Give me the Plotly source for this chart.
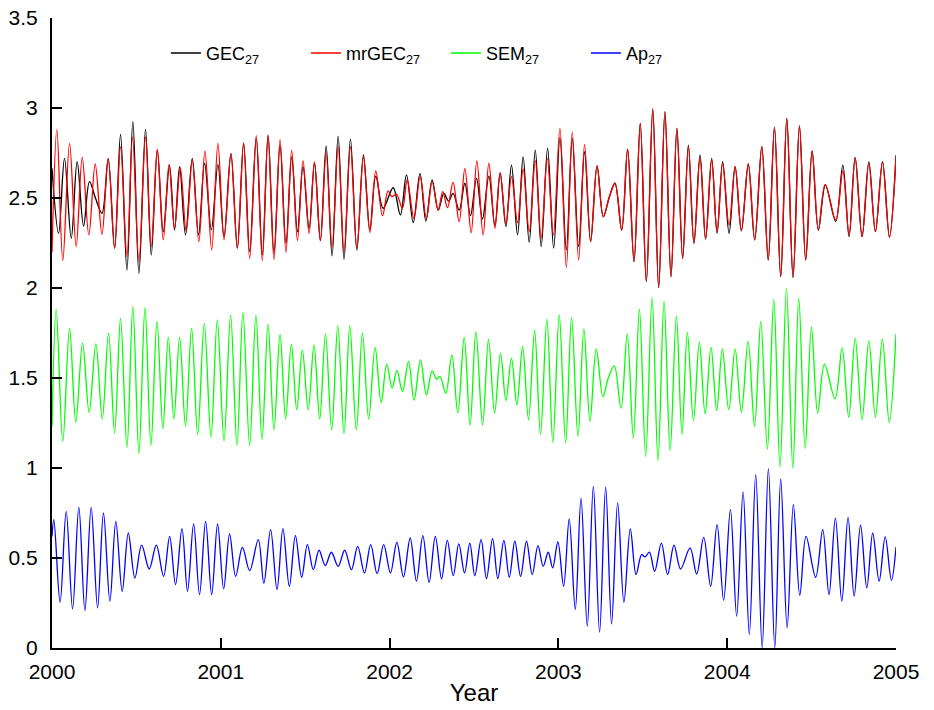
import plotly.graph_objects as go

# Extremum readings: (years after 2000-01-01, value)
GEC = [(0.000, 2.665), (0.039, 2.304), (0.074, 2.720), (0.114, 2.276), (0.149, 2.702), (0.187, 2.344),
       (0.222, 2.591), (0.258, 2.498), (0.296, 2.415), (0.333, 2.717), (0.371, 2.221), (0.406, 2.853),
       (0.444, 2.100), (0.479, 2.924), (0.515, 2.082), (0.554, 2.881), (0.588, 2.184), (0.624, 2.766),
       (0.659, 2.313), (0.696, 2.683), (0.726, 2.323), (0.756, 2.674), (0.791, 2.295), (0.831, 2.720),
       (0.868, 2.295), (0.904, 2.692), (0.944, 2.323), (0.983, 2.687), (1.019, 2.285), (1.060, 2.748),
       (1.098, 2.221), (1.135, 2.803), (1.171, 2.202), (1.210, 2.831), (1.246, 2.184),
       (1.280, 2.846), (1.315, 2.193), (1.351, 2.794), (1.386, 2.248), (1.420, 2.729), (1.454, 2.313),
       (1.487, 2.674), (1.523, 2.332), (1.555, 2.692), (1.590, 2.263), (1.624, 2.789), (1.659, 2.178),
       (1.695, 2.844), (1.730, 2.160), (1.768, 2.827), (1.806, 2.212), (1.845, 2.739), (1.883, 2.322),
       (1.918, 2.622), (1.962, 2.443), (2.021, 2.557), (2.064, 2.406), (2.100, 2.628), (2.140, 2.363),
       (2.180, 2.637), (2.215, 2.372), (2.252, 2.600), (2.288, 2.433), (2.321, 2.526), (2.349, 2.483),
       (2.376, 2.526), (2.412, 2.433), (2.446, 2.582), (2.479, 2.402),
       (2.515, 2.609), (2.550, 2.383), (2.588, 2.622), (2.624, 2.346), (2.655, 2.640), (2.689, 2.341),
       (2.722, 2.683), (2.758, 2.295), (2.791, 2.729), (2.827, 2.254), (2.863, 2.766), (2.898, 2.230),
       (2.936, 2.776), (2.972, 2.221), (3.009, 2.835), (3.047, 2.212), (3.082, 2.831), (3.120, 2.230),
       (3.155, 2.757), (3.191, 2.258), (3.229, 2.678), (3.266, 2.396), (3.302, 2.507), (3.335, 2.582),
       (3.375, 2.322), (3.410, 2.772), (3.448, 2.147), (3.485, 2.915), (3.521, 2.036), (3.559, 2.994),
       (3.594, 2.002), (3.631, 2.979), (3.667, 2.063), (3.702, 2.887), (3.736, 2.165),
       (3.770, 2.794), (3.803, 2.248), (3.839, 2.739), (3.872, 2.272), (3.908, 2.720), (3.940, 2.304),
       (3.973, 2.702), (4.011, 2.304), (4.047, 2.674), (4.084, 2.318), (4.125, 2.689), (4.163, 2.267),
       (4.205, 2.785), (4.243, 2.156), (4.280, 2.892), (4.317, 2.063), (4.353, 2.942), (4.390, 2.059),
       (4.428, 2.900), (4.465, 2.156), (4.503, 2.761), (4.540, 2.322), (4.582, 2.572), (4.643, 2.370),
       (4.685, 2.683), (4.722, 2.285), (4.758, 2.724), (4.799, 2.285), (4.839, 2.700), (4.878, 2.313),
       (4.920, 2.702), (4.961, 2.285), (5.000, 2.738)]

MRGEC = [(0.000, 2.200), (0.029, 2.881), (0.064, 2.152), (0.104, 2.803), (0.143, 2.230), (0.179, 2.726),
         (0.218, 2.295), (0.256, 2.689), (0.296, 2.298), (0.333, 2.720), (0.371, 2.221), (0.406, 2.785),
         (0.444, 2.175), (0.477, 2.840), (0.515, 2.147), (0.554, 2.840), (0.588, 2.230), (0.624, 2.770),
         (0.659, 2.267), (0.693, 2.687), (0.726, 2.332), (0.760, 2.669), (0.795, 2.313), (0.831, 2.711),
         (0.870, 2.258), (0.906, 2.761), (0.946, 2.212), (0.983, 2.803), (1.019, 2.267), (1.060, 2.744),
         (1.098, 2.221), (1.135, 2.807), (1.171, 2.165), (1.210, 2.846), (1.246, 2.152),
         (1.280, 2.850), (1.315, 2.158), (1.351, 2.826), (1.386, 2.198), (1.420, 2.766), (1.454, 2.263),
         (1.487, 2.707), (1.523, 2.304), (1.555, 2.702), (1.590, 2.263), (1.624, 2.748), (1.659, 2.226),
         (1.695, 2.785), (1.730, 2.202), (1.768, 2.785), (1.806, 2.221), (1.845, 2.729), (1.883, 2.309),
         (1.918, 2.650), (1.958, 2.402), (1.991, 2.539), (2.013, 2.508), (2.040, 2.521), (2.076, 2.443),
         (2.104, 2.600), (2.144, 2.387), (2.181, 2.619), (2.218, 2.387), (2.252, 2.591), (2.288, 2.433),
         (2.315, 2.535), (2.343, 2.446), (2.376, 2.587), (2.412, 2.369), (2.446, 2.665), (2.483, 2.307),
         (2.517, 2.706), (2.554, 2.295), (2.588, 2.693), (2.624, 2.332), (2.655, 2.640), (2.689, 2.359),
         (2.722, 2.619), (2.758, 2.363), (2.791, 2.661), (2.827, 2.313), (2.863, 2.707), (2.898, 2.276),
         (2.934, 2.720), (2.970, 2.295), (3.009, 2.887), (3.047, 2.114), (3.082, 2.865), (3.120, 2.156),
         (3.155, 2.798), (3.191, 2.258), (3.229, 2.678), (3.266, 2.396), (3.302, 2.507), (3.335, 2.582),
         (3.375, 2.322), (3.410, 2.772), (3.448, 2.147), (3.485, 2.915), (3.521, 2.036), (3.559, 2.994),
         (3.594, 2.002), (3.631, 2.979), (3.667, 2.063), (3.702, 2.887), (3.736, 2.165),
         (3.770, 2.785), (3.803, 2.248), (3.839, 2.729), (3.872, 2.272), (3.908, 2.711), (3.940, 2.313),
         (3.973, 2.692), (4.011, 2.350), (4.047, 2.674), (4.084, 2.318), (4.125, 2.689), (4.163, 2.267),
         (4.205, 2.785), (4.243, 2.156), (4.280, 2.892), (4.317, 2.063), (4.353, 2.942), (4.390, 2.059),
         (4.428, 2.900), (4.465, 2.156), (4.503, 2.761), (4.540, 2.322), (4.580, 2.576), (4.643, 2.378),
         (4.685, 2.650), (4.722, 2.295), (4.758, 2.724), (4.799, 2.285), (4.839, 2.692), (4.878, 2.313),
         (4.920, 2.698), (4.961, 2.281), (5.000, 2.729)]

SEM = [(0.000, 1.231), (0.025, 1.882), (0.064, 1.148), (0.104, 1.777), (0.141, 1.253), (0.181, 1.694),
       (0.220, 1.309), (0.260, 1.690), (0.298, 1.272), (0.335, 1.749), (0.371, 1.194), (0.406, 1.832),
       (0.444, 1.115), (0.479, 1.897), (0.515, 1.079), (0.551, 1.892), (0.586, 1.125), (0.622, 1.814),
       (0.657, 1.218), (0.689, 1.727), (0.722, 1.272), (0.756, 1.727), (0.791, 1.231), (0.827, 1.777),
       (0.863, 1.185), (0.902, 1.805), (0.942, 1.172), (0.979, 1.823), (1.019, 1.151), (1.058, 1.851),
       (1.096, 1.125), (1.131, 1.864), (1.171, 1.125), (1.208, 1.851), (1.244, 1.157),
       (1.280, 1.799), (1.315, 1.212), (1.351, 1.743), (1.384, 1.272), (1.418, 1.688), (1.450, 1.323),
       (1.483, 1.656), (1.518, 1.323), (1.552, 1.684), (1.586, 1.272), (1.620, 1.745), (1.657, 1.212),
       (1.693, 1.791), (1.730, 1.188), (1.764, 1.791), (1.803, 1.212), (1.839, 1.749), (1.876, 1.272),
       (1.914, 1.670), (1.950, 1.364), (1.983, 1.577), (2.015, 1.444), (2.043, 1.542), (2.076, 1.425),
       (2.112, 1.592), (2.145, 1.377), (2.183, 1.601), (2.218, 1.406), (2.252, 1.540), (2.278, 1.494),
       (2.299, 1.508), (2.333, 1.415), (2.369, 1.629), (2.404, 1.305), (2.442, 1.725), (2.477, 1.237),
       (2.511, 1.758), (2.551, 1.240), (2.586, 1.716), (2.622, 1.305), (2.657, 1.638), (2.689, 1.375),
       (2.722, 1.610), (2.754, 1.351), (2.788, 1.675), (2.823, 1.268), (2.859, 1.764), (2.894, 1.185),
       (2.932, 1.827), (2.967, 1.142), (3.005, 1.851), (3.043, 1.138), (3.078, 1.836), (3.116, 1.175),
       (3.151, 1.773), (3.187, 1.258), (3.224, 1.662), (3.264, 1.397), (3.295, 1.499), (3.331, 1.567),
       (3.371, 1.332), (3.408, 1.743), (3.444, 1.166), (3.480, 1.882), (3.517, 1.065), (3.555, 1.947),
       (3.590, 1.041), (3.626, 1.925), (3.662, 1.097), (3.699, 1.845), (3.732, 1.188),
       (3.764, 1.754), (3.800, 1.264), (3.835, 1.699), (3.869, 1.301), (3.904, 1.671), (3.938, 1.320),
       (3.971, 1.662), (4.009, 1.323), (4.047, 1.660), (4.084, 1.310), (4.124, 1.703), (4.162, 1.231),
       (4.199, 1.814), (4.238, 1.105), (4.276, 1.937), (4.313, 1.005), (4.351, 1.998), (4.389, 0.999),
       (4.424, 1.943), (4.462, 1.110), (4.499, 1.782), (4.536, 1.305), (4.576, 1.577), (4.639, 1.384),
       (4.681, 1.666), (4.720, 1.282), (4.758, 1.721), (4.799, 1.268), (4.839, 1.706), (4.878, 1.282),
       (4.919, 1.716), (4.960, 1.253), (5.000, 1.745)]

AP = [(0.000, 0.620), (0.011, 0.713), (0.048, 0.254), (0.084, 0.759), (0.122, 0.217), (0.159, 0.783),
      (0.195, 0.208), (0.232, 0.781), (0.270, 0.223), (0.305, 0.750), (0.343, 0.260), (0.378, 0.704),
      (0.416, 0.315), (0.452, 0.639), (0.491, 0.389), (0.531, 0.571), (0.576, 0.439), (0.618, 0.571),
      (0.661, 0.398), (0.697, 0.620), (0.732, 0.352), (0.770, 0.663), (0.803, 0.315), (0.839, 0.690),
      (0.874, 0.297), (0.910, 0.704), (0.946, 0.297), (0.981, 0.689), (1.017, 0.328), (1.052, 0.634),
      (1.088, 0.398), (1.128, 0.559), (1.171, 0.430), (1.222, 0.602), (1.255, 0.360),
      (1.295, 0.658), (1.333, 0.325), (1.368, 0.663), (1.406, 0.343), (1.442, 0.624), (1.479, 0.393),
      (1.513, 0.574), (1.548, 0.435), (1.582, 0.543), (1.619, 0.458), (1.655, 0.532), (1.695, 0.454),
      (1.734, 0.543), (1.774, 0.435), (1.811, 0.565), (1.851, 0.417), (1.888, 0.574), (1.926, 0.413),
      (1.965, 0.574), (2.005, 0.417), (2.043, 0.587), (2.082, 0.395), (2.122, 0.611), (2.159, 0.371),
      (2.197, 0.624), (2.234, 0.365), (2.271, 0.620), (2.308, 0.384), (2.342, 0.598), (2.377, 0.402),
      (2.410, 0.578), (2.444, 0.417), (2.475, 0.583),
      (2.505, 0.402), (2.542, 0.602), (2.574, 0.386), (2.610, 0.608), (2.641, 0.386), (2.677, 0.598),
      (2.709, 0.393), (2.742, 0.593), (2.776, 0.398), (2.811, 0.593), (2.845, 0.408), (2.879, 0.569),
      (2.910, 0.454), (2.940, 0.532), (2.966, 0.445), (2.997, 0.589), (3.031, 0.343), (3.064, 0.717),
      (3.100, 0.214), (3.134, 0.833), (3.171, 0.121), (3.207, 0.898), (3.244, 0.088), (3.280, 0.894),
      (3.315, 0.134), (3.351, 0.806), (3.388, 0.254), (3.426, 0.661), (3.460, 0.408), (3.493, 0.519),
      (3.513, 0.506), (3.539, 0.532), (3.570, 0.426), (3.610, 0.583), (3.647, 0.408), (3.685, 0.571),
      (3.724, 0.439),
      (3.780, 0.556), (3.819, 0.411), (3.861, 0.615), (3.902, 0.343), (3.940, 0.685), (3.979, 0.265),
      (4.019, 0.769), (4.056, 0.177), (4.094, 0.867), (4.131, 0.075), (4.169, 0.963), (4.207, 0.001),
      (4.244, 0.996), (4.282, 0.001), (4.317, 0.939), (4.355, 0.112), (4.392, 0.796), (4.430, 0.293),
      (4.467, 0.620), (4.524, 0.393), (4.566, 0.658), (4.603, 0.297), (4.641, 0.722), (4.679, 0.260),
      (4.716, 0.726), (4.752, 0.288), (4.790, 0.682), (4.827, 0.334), (4.862, 0.639), (4.900, 0.371),
      (4.936, 0.617), (4.973, 0.376), (5.000, 0.561)]

START_YEAR = 2000
YEAR_TICKS = [2000, 2001, 2002, 2003, 2004, 2005]
SERIES_NAMES = ["GEC<sub>27</sub>", "mrGEC<sub>27</sub>", "SEM<sub>27</sub>", "Ap<sub>27</sub>"]
COLORS = ["#000000", "#ff0000", "#00ff00", "#0000ff"]

FONT = "Liberation Sans, Arial, sans-serif"

fig = go.Figure()
for data, name, color in zip([GEC, MRGEC, SEM, AP], SERIES_NAMES, COLORS):
    xs = [START_YEAR + t for t, _ in data]
    ys = [v for _, v in data]
    fig.add_trace(go.Scatter(x=xs, y=ys, mode="lines", name=name,
                             line=dict(color=color, width=1.3, shape="spline", smoothing=1.0)))

axis_common = dict(showline=True, linecolor="black", linewidth=2, ticks="inside", ticklen=10,
                   tickwidth=2, tickcolor="black", showgrid=False, zeroline=False, automargin=False,
                   tickfont=dict(family=FONT, size=21, color="black"))

fig.update_layout(
    width=934, height=710,
    margin=dict(l=52, r=38, t=18, b=62),
    paper_bgcolor="white", plot_bgcolor="white",
    font=dict(family=FONT, color="black"),
    xaxis=dict(range=[2000, 2005], tickvals=YEAR_TICKS, ticktext=[str(y) for y in YEAR_TICKS],
               title=dict(text="Year", font=dict(family=FONT, size=24), standoff=2),
               ticklabelstandoff=4, **axis_common),
    yaxis=dict(range=[0, 3.5], dtick=0.5, ticklabelstandoff=8, **axis_common),
    legend=dict(orientation="h", x=0.135, y=0.944, xanchor="left", yanchor="middle",
                entrywidth=95, entrywidthmode="pixels", font=dict(family=FONT, size=18),
                bgcolor="rgba(0,0,0,0)", itemwidth=30),
    showlegend=True,
)

fig.write_html("out.html")
